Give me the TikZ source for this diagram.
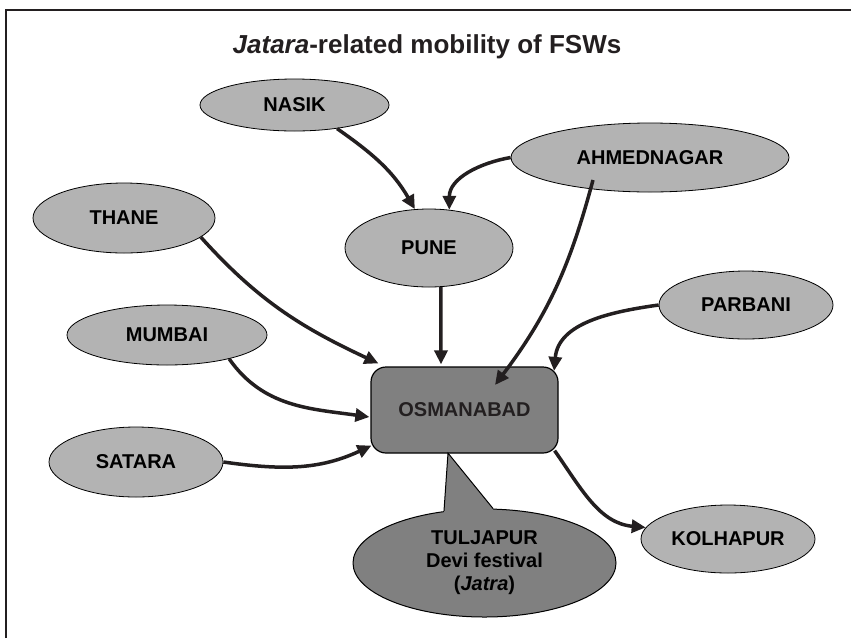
\documentclass[tikz,border=0pt]{standalone}
\usepackage{fontspec}
\setmainfont{Liberation Sans}
\usetikzlibrary{shapes.geometric,arrows.meta}
\definecolor{ell}{HTML}{B3B3B3}
\definecolor{dk}{HTML}{808080}
\definecolor{ink}{HTML}{231F20}
\begin{document}
\begin{tikzpicture}[x=1pt,y=-1pt,
  city/.style={ellipse,draw=black,line width=0.8pt,fill=ell,inner sep=0pt,
    font=\fontsize{20}{23}\selectfont\bfseries,text=black},
  hub/.style={rectangle,rounded corners=15pt,draw=black,line width=1.2pt,fill=dk,
    inner sep=0pt,font=\fontsize{20}{23}\selectfont\bfseries,text=ink},
  link/.style={draw=ink,line width=3.5pt,-{Triangle[length=14pt,width=13pt]}},
  ]
\useasboundingbox (0,0) rectangle (851,638);
\draw[ink,line width=1.8pt] (6,638) -- (6,10) -- (851,10);

\node[font=\fontsize{26}{30}\selectfont\bfseries,text=ink] (title) at (427,47)
  {\textit{Jatara}-related mobility of FSWs};

\node[city,minimum width=189pt,minimum height=52pt] (nasik) at (294.5,105) {NASIK};
\node[city,minimum width=278pt,minimum height=69pt] (ahmed) at (650,157.5) {AHMEDNAGAR};
\node[city,minimum width=168pt,minimum height=78pt] (pune) at (429,248) {PUNE};
\node[city,minimum width=182pt,minimum height=70pt] (thane) at (124,218) {THANE};
\node[city,minimum width=200pt,minimum height=60pt] (mumbai) at (167,335) {MUMBAI};
\node[city,minimum width=174pt,minimum height=70pt] (satara) at (136,462) {SATARA};
\node[city,minimum width=174pt,minimum height=68pt] (parbani) at (746,305) {PARBANI};
\node[city,minimum width=174pt,minimum height=68pt] (kol) at (728,539) {KOLHAPUR};

\node[hub,minimum width=187pt,minimum height=86pt] (osm) at (464.5,410) {OSMANABAD};

\node[ellipse,draw=black,line width=1pt,fill=dk,inner sep=0pt,
  minimum width=263pt,minimum height=108pt,align=center,text=black,
  font=\fontsize{20}{23}\selectfont\bfseries] (tul) at (484.5,563)
  {TULJAPUR\\Devi festival\\(\textit{Jatra})};
\fill[dk] ([shift={(-16.5,-0.5)}]osm.south) -- (tul.128)
  -- ([shift={(-40.5,-38)}]tul.center) -- ([shift={(8.5,-38)}]tul.center)
  -- (tul.81) -- cycle;
\draw[black,line width=1pt,line join=miter] (tul.128) -- ([shift={(-16.5,-0.5)}]osm.south) -- (tul.81);

\draw[link] (nasik.-29) to[out=-35,in=120] (pune.110);
\draw[link] (ahmed.west) to[out=190,in=90] (pune.62);
\draw[link] (pune.-73) -- ([shift={(-23.5,-2)}]osm.north);
\draw[link] ([shift={(-57,22.5)}]ahmed.center) to[out=-105,in=53] ([shift={(30.5,-25)}]osm.center);
\draw[link] (parbani.west) to[out=188,in=85] ([shift={(-4.5,4.5)}]osm.north east);
\draw[link] (thane.-14) to[out=-48,in=155] ([shift={(8,-3)}]osm.north west);
\draw[link] (mumbai.-21) to[out=-55,in=172] ([shift={(-1,7)}]osm.west);
\draw[link] (satara.east) to[out=-8,in=205] ([shift={(1,-8)}]osm.south west);
\draw[link] ([shift={(-4,-3)}]osm.south east) to[out=-55,in=175] (kol.172);
\end{tikzpicture}
\end{document}
